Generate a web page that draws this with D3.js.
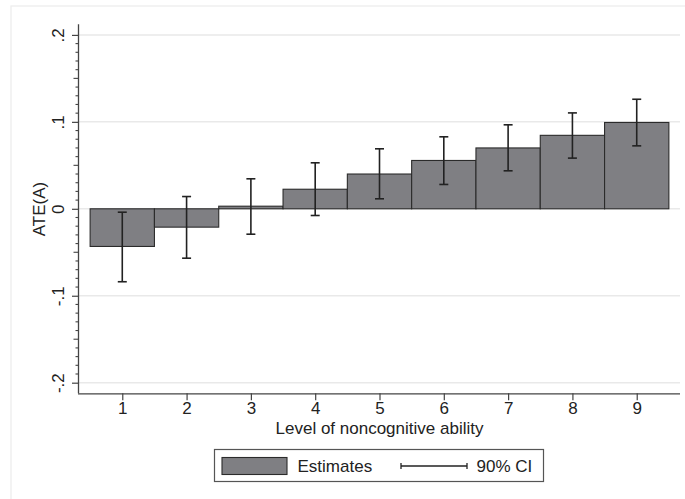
<!DOCTYPE html>
<html><head><meta charset="utf-8">
<script src="https://cdn.jsdelivr.net/npm/d3@7"></script>
<style>body{margin:0;background:#fff}svg{display:block;font-family:"Liberation Sans",Arial,sans-serif}</style>
</head><body>
<svg id="c" width="685" height="499"></svg>
<script>
const levels = [1,2,3,4,5,6,7,8,9];
const estimates = [-0.0433, -0.0211, 0.003, 0.0225, 0.040, 0.0556, 0.070, 0.0845, 0.0993];
const ciLow  = [-0.0839, -0.0568, -0.0292, -0.0077, 0.0115, 0.0280, 0.0437, 0.0583, 0.0724];
const ciHigh = [-0.0039, 0.0141, 0.0345, 0.0529, 0.069, 0.0828, 0.0966, 0.1103, 0.126];
const yTicks = [-0.2, -0.1, 0, 0.1, 0.2];
const yTickLabels = ["-.2", "-.1", "0", ".1", ".2"];
const xLabel = "Level of noncognitive ability";
const yLabel = "ATE(A)";
const legendLabels = ["Estimates", "90% CI"];

const svg = d3.select("#c");
const L = 79, R = 680, T = 24.3, B = 393.3;
const x = d3.scaleLinear().domain([0.327, 9.673]).range([L, R]);
const y = d3.scaleLinear().domain([-0.2122, 0.2122]).range([B, T]);
const fs = 17;
const barFill = "#7f7f83", dark = "#2b2b2b";

// outer frame
svg.append("rect").attr("x", 11).attr("y", 6).attr("width", 700).attr("height", 520)
  .attr("fill", "none").attr("stroke", "#ececec").attr("stroke-width", 1.2);

// gridlines
svg.append("g").selectAll("line").data(yTicks).join("line")
  .attr("x1", L).attr("x2", R).attr("y1", d => y(d)).attr("y2", d => y(d))
  .attr("stroke", "#e9e9e9").attr("stroke-width", 1.5);

// bars
svg.append("g").selectAll("rect").data(levels).join("rect")
  .attr("x", (d) => x(d - 0.5))
  .attr("width", (d) => x(d + 0.5) - x(d - 0.5))
  .attr("y", (d, i) => Math.min(y(estimates[i]), y(0)))
  .attr("height", (d, i) => Math.abs(y(estimates[i]) - y(0)))
  .attr("fill", barFill).attr("stroke", dark).attr("stroke-width", 1.1);

// CI
const ci = svg.append("g").attr("stroke", "#222").attr("stroke-width", 1.6);
levels.forEach((d, i) => {
  const cx = x(d);
  ci.append("line").attr("x1", cx).attr("x2", cx).attr("y1", y(ciLow[i])).attr("y2", y(ciHigh[i]));
  ci.append("line").attr("x1", cx - 4.5).attr("x2", cx + 4.5).attr("y1", y(ciLow[i])).attr("y2", y(ciLow[i]));
  ci.append("line").attr("x1", cx - 4.5).attr("x2", cx + 4.5).attr("y1", y(ciHigh[i])).attr("y2", y(ciHigh[i]));
});

// y axis
const yAxis = d3.axisLeft(y).tickValues(yTicks).tickSize(7).tickFormat((d, i) => yTickLabels[i]);
const yg = svg.append("g").attr("transform", `translate(${L},0)`).call(yAxis);
yg.select(".domain").attr("d", `M-0.5,${T}V${B}`).attr("stroke", "#444").attr("stroke-width", 1.3);
yg.selectAll(".tick line").attr("stroke", "#444").attr("stroke-width", 1.2);
yg.selectAll(".tick text").attr("font-size", fs).attr("fill", "#222")
  .attr("x", null).attr("dy", null)
  .attr("transform", "translate(-21,0) rotate(-90)")
  .attr("text-anchor", "middle").attr("dominant-baseline", "central");
// minor ticks
const minor = d3.range(-20, 21).filter(k => k % 10 !== 0).map(k => k / 100);
svg.append("g").selectAll("line").data(minor).join("line")
  .attr("x1", d => L - (Math.abs(Math.round(d * 100)) % 5 === 0 ? 5.5 : 3.5)).attr("x2", L)
  .attr("y1", d => y(d)).attr("y2", d => y(d))
  .attr("stroke", "#444").attr("stroke-width", 1.1);

// x axis
const xAxis = d3.axisBottom(x).tickValues(levels).tickSize(7).tickFormat(d3.format("d"));
const xg = svg.append("g").attr("transform", `translate(0,${B})`).call(xAxis);
xg.select(".domain").attr("d", `M${L - 1},0.5H${R}`).attr("stroke", "#444").attr("stroke-width", 1.3);
xg.selectAll(".tick line").attr("stroke", "#444").attr("stroke-width", 1.2);
xg.selectAll(".tick text").attr("font-size", fs).attr("fill", "#222").attr("y", 9).attr("dy", "0.71em");

// axis titles
svg.append("text").attr("x", (L + R) / 2).attr("y", 434).attr("text-anchor", "middle")
  .attr("font-size", fs).attr("fill", "#222").text(xLabel);
svg.append("text").attr("transform", `translate(39.5,209) rotate(-90)`).attr("text-anchor", "middle")
  .attr("dominant-baseline", "central").attr("font-size", fs).attr("fill", "#222").text(yLabel);

// legend
const lg = svg.append("g");
lg.append("rect").attr("x", 214.5).attr("y", 449.5).attr("width", 329).attr("height", 32)
  .attr("fill", "#fff").attr("stroke", "#555").attr("stroke-width", 1.2);
lg.append("rect").attr("x", 222).attr("y", 457.5).attr("width", 65).attr("height", 17)
  .attr("fill", barFill).attr("stroke", dark).attr("stroke-width", 1.1);
lg.append("text").attr("x", 297.5).attr("y", 466).attr("dominant-baseline", "central")
  .attr("font-size", fs).attr("fill", "#222").text(legendLabels[0]);
const lci = lg.append("g").attr("stroke", "#222").attr("stroke-width", 1.3);
lci.append("line").attr("x1", 401).attr("x2", 467).attr("y1", 466).attr("y2", 466);
lci.append("line").attr("x1", 401).attr("x2", 401).attr("y1", 463).attr("y2", 469);
lci.append("line").attr("x1", 467).attr("x2", 467).attr("y1", 463).attr("y2", 469);
lg.append("text").attr("x", 476.5).attr("y", 466).attr("dominant-baseline", "central")
  .attr("font-size", fs).attr("fill", "#222").text(legendLabels[1]);
</script>
</body></html>
